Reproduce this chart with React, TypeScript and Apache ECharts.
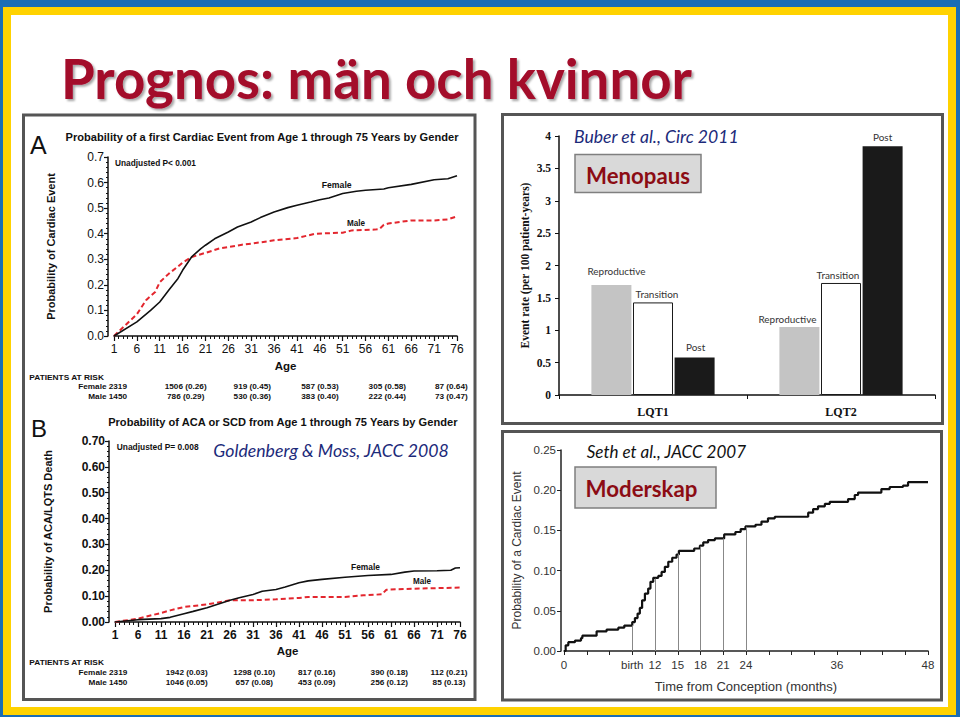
import React, { useEffect, useRef } from "react";
import * as echarts from "echarts";

// ---------- Panel A: first cardiac event by gender ----------
const agesFemaleA = [1, 6, 9, 11, 13, 15, 16, 18, 20, 21, 23, 26, 28, 31, 33, 36, 39, 41, 44, 46, 48, 51, 54, 56, 60, 61, 66, 71, 74, 76];
const probFemaleA = [0, 0.055, 0.1, 0.133, 0.18, 0.225, 0.257, 0.31, 0.342, 0.355, 0.38, 0.407, 0.426, 0.446, 0.463, 0.485, 0.502, 0.511, 0.524, 0.533, 0.54, 0.557, 0.566, 0.57, 0.575, 0.58, 0.593, 0.611, 0.615, 0.627];
const agesMaleA = [1, 6, 8, 10, 11, 13, 15, 16, 18, 20, 21, 24, 26, 29, 31, 36, 41, 45, 51, 53, 58, 59, 60, 61, 66, 71, 74, 76];
const probMaleA = [0, 0.085, 0.14, 0.172, 0.21, 0.244, 0.272, 0.287, 0.309, 0.32, 0.325, 0.342, 0.348, 0.357, 0.361, 0.374, 0.383, 0.4, 0.404, 0.413, 0.416, 0.418, 0.435, 0.44, 0.452, 0.452, 0.456, 0.468];
const riskFemaleA = ["1506 (0.26)", "919 (0.45)", "587 (0.53)", "305 (0.58)", "87 (0.64)"];
const riskMaleA = ["786 (0.29)", "530 (0.36)", "383 (0.40)", "222 (0.44)", "73 (0.47)"];

// ---------- Panel B: ACA or SCD by gender ----------
const agesFemaleB = [1, 6, 11, 13, 16, 18, 21, 23, 26, 28, 31, 33, 36, 38, 41, 43, 46, 51, 56, 61, 64, 66, 71, 74, 75, 76];
const probFemaleB = [0, 0.009, 0.013, 0.018, 0.032, 0.041, 0.055, 0.067, 0.084, 0.094, 0.106, 0.119, 0.126, 0.135, 0.152, 0.159, 0.165, 0.173, 0.18, 0.184, 0.193, 0.197, 0.198, 0.2, 0.209, 0.21];
const agesMaleB = [1, 6, 11, 13, 16, 21, 26, 31, 36, 41, 43, 51, 55, 59, 60, 66, 76];
const probMaleB = [0, 0.013, 0.035, 0.045, 0.058, 0.068, 0.084, 0.084, 0.088, 0.093, 0.097, 0.097, 0.103, 0.107, 0.125, 0.129, 0.133];
const riskFemaleB = ["1942 (0.03)", "1298 (0.10)", "817 (0.16)", "390 (0.18)", "112 (0.21)"];
const riskMaleB = ["1046 (0.05)", "657 (0.08)", "453 (0.09)", "256 (0.12)", "85 (0.13)"];

// ---------- Panel C: menopause event rates ----------
const genotypes = ["LQT1", "LQT2"];
const reproductive = [1.7, 1.05];
const transition = [1.43, 1.73];
const post = [0.58, 3.84];

// ---------- Panel D: pregnancy / postpartum ----------
const months = [0, 0.22, 0.57, 1.45, 2.24, 2.42, 4.3, 5.62, 7.16, 7.95, 9.0, 9.35, 9.7, 10.0, 10.3, 10.67, 11.1, 11.4, 11.77, 12.43, 12.87, 13.3, 13.75, 14.27, 14.84, 15.15, 17.17, 17.92, 18.36, 19.0, 19.9, 21.12, 22.6, 23.3, 23.93, 25.25, 26.04, 26.9, 27.8, 32.2, 32.85, 33.5, 34.4, 35.05, 37.46, 38.34, 38.78, 41.85, 42.95, 44.7, 45.37, 48];
const cardiacProb = [0, 0.007, 0.011, 0.013, 0.016, 0.019, 0.0245, 0.0266, 0.029, 0.0316, 0.036, 0.041, 0.0465, 0.0536, 0.063, 0.0714, 0.0777, 0.086, 0.091, 0.0934, 0.0984, 0.1047, 0.111, 0.116, 0.12, 0.1246, 0.1275, 0.131, 0.135, 0.138, 0.14, 0.145, 0.148, 0.1516, 0.155, 0.157, 0.161, 0.165, 0.167, 0.172, 0.1765, 0.18, 0.183, 0.1856, 0.189, 0.194, 0.197, 0.2014, 0.204, 0.2056, 0.21, 0.21];
const markerMonths = [9, 12, 15, 18, 21, 24];
const markerProb = [0.032, 0.09, 0.121, 0.13, 0.14, 0.1545];
const monthLabels: Record<number, string> = { 0: "0", 9: "birth", 12: "12", 15: "15", 18: "18", 21: "21", 24: "24", 36: "36", 48: "48" };

const SANS = '"Liberation Sans", Arial, sans-serif';
const SERIF = '"Liberation Serif", "Times New Roman", serif';
const HUM = 'Lato, "Open Sans", sans-serif';

const zip = (a: number[], b: number[]) => a.map((x, i) => [x, b[i]]);

function buildOption() {
  const cv = document.createElement("canvas").getContext("2d")!;
  const measure = (t: string, font: string) => {
    cv.font = font;
    return cv.measureText(t).width;
  };
  const txt = (t: string, x: number, y: number, font: string, fill: string, opts: any = {}) => {
    const { align = "left", fit, scale, z = 30, extra = {} } = opts;
    const sx = fit ? fit / measure(t, font) : scale || 1;
    return {
      type: "text",
      x,
      y,
      z,
      scaleX: sx,
      silent: true,
      style: { text: t, font, fill, textAlign: align, textVerticalAlign: "middle", verticalAlign: "middle", ...extra },
    };
  };
  const sizeFor = (t: string, pre: string, family: string, width: number) => (20 * width) / measure(t, `${pre} 20px ${family}`);

  const titleSize = sizeFor("Prognos: män och kvinnor", "bold", HUM, 631);
  const buberSize = sizeFor("Buber et al., Circ 2011", "italic", HUM, 165);
  const goldSize = sizeFor("Goldenberg & Moss, JACC 2008", "italic", HUM, 236);
  const sethSize = sizeFor("Seth et al., JACC 2007", "italic", HUM, 160);
  const menoSize = sizeFor("Menopaus", "bold", HUM, 104);
  const modSize = sizeFor("Moderskap", "bold", HUM, 112);
  const barLabelSize = sizeFor("Reproductive", "", HUM, 58);

  const riskFont = `bold 8px ${SANS}`;
  const riskScale = 42 / measure("1506 (0.26)", riskFont);
  const colsA = [185.7, 252.3, 320, 387.3, 451.3];
  const colsB = [186.7, 254.3, 316.7, 389.3, 449];

  const graphic: any[] = [
    { type: "rect", z: -20, silent: true, shape: { x: 3, y: 7, width: 953, height: 708 }, style: { fill: "#ffd200" } },
    { type: "rect", z: -19, silent: true, shape: { x: 11, y: 15, width: 937, height: 692 }, style: { fill: "#ffffff" } },
    txt("Prognos: män och kvinnor", 61, 78, `bold ${titleSize}px ${HUM}`, "#a3092a", {
      extra: { textShadowColor: "rgba(0,0,0,0.35)", textShadowOffsetX: 2, textShadowOffsetY: 2, textShadowBlur: 2 },
    }),
    // panel frames
    { type: "rect", z: 40, silent: true, shape: { x: 23.5, y: 115, width: 451.5, height: 584.5 }, style: { fill: "none", stroke: "#555", lineWidth: 3 } },
    { type: "rect", z: 40, silent: true, shape: { x: 502.5, y: 114.5, width: 440, height: 309 }, style: { fill: "none", stroke: "#555", lineWidth: 3 } },
    { type: "rect", z: 40, silent: true, shape: { x: 502.5, y: 431.5, width: 439, height: 268.5 }, style: { fill: "none", stroke: "#555", lineWidth: 3 } },

    // Panel A
    txt("A", 30, 144.5, `25px ${SANS}`, "#111"),
    txt("Probability of a first Cardiac Event from Age 1 through 75 Years by Gender", 262, 137, `bold 11.5px ${SANS}`, "#111", { align: "center", fit: 394 }),
    txt("Unadjusted P< 0.001", 115, 163, `bold 8.3px ${SANS}`, "#111", { fit: 81 }),
    txt("Female", 336.7, 185, `bold 9px ${SANS}`, "#111", { align: "center", fit: 30 }),
    txt("Male", 356, 223.3, `bold 9px ${SANS}`, "#111", { align: "center", fit: 18 }),
    txt("PATIENTS AT RISK", 29.3, 377.7, riskFont, "#111", { fit: 75 }),
    txt("Female 2319", 127, 387, riskFont, "#111", { align: "right", scale: riskScale }),
    txt("Male 1450", 127, 396.5, riskFont, "#111", { align: "right", scale: riskScale }),
    ...riskFemaleA.map((t, i) => txt(t, colsA[i], 387, riskFont, "#111", { align: "center", scale: riskScale })),
    ...riskMaleA.map((t, i) => txt(t, colsA[i], 396.5, riskFont, "#111", { align: "center", scale: riskScale })),

    // Panel B
    txt("B", 31, 428.5, `24px ${SANS}`, "#111"),
    txt("Probability of ACA or SCD from Age 1 through 75 Years by Gender", 282.8, 421.7, `bold 11.5px ${SANS}`, "#111", { align: "center", fit: 351 }),
    txt("Unadjusted P= 0.008", 116.7, 446.7, `bold 8.3px ${SANS}`, "#111", { fit: 82 }),
    txt("Goldenberg & Moss, JACC 2008", 213.3, 450, `italic ${goldSize}px ${HUM}`, "#1c2a7a"),
    txt("Female", 365.5, 566.7, `bold 9px ${SANS}`, "#111", { align: "center", fit: 29 }),
    txt("Male", 422, 581, `bold 9px ${SANS}`, "#111", { align: "center", fit: 18 }),
    txt("PATIENTS AT RISK", 29.3, 662.7, riskFont, "#111", { fit: 75 }),
    txt("Female 2319", 127.3, 672.7, riskFont, "#111", { align: "right", scale: riskScale }),
    txt("Male 1450", 127.3, 682.3, riskFont, "#111", { align: "right", scale: riskScale }),
    ...riskFemaleB.map((t, i) => txt(t, colsB[i], 672.7, riskFont, "#111", { align: "center", scale: riskScale })),
    ...riskMaleB.map((t, i) => txt(t, colsB[i], 682.3, riskFont, "#111", { align: "center", scale: riskScale })),

    // Panel C
    txt("Buber et al., Circ 2011", 574, 136, `italic ${buberSize}px ${HUM}`, "#1c2a7a"),
    { type: "rect", z: 25, silent: true, shape: { x: 575, y: 154.5, width: 126, height: 38 }, style: { fill: "#d9d9d9", stroke: "#7f7f7f", lineWidth: 1.5 } },
    txt("Menopaus", 638, 175.7, `bold ${menoSize}px ${HUM}`, "#8c0c14", { align: "center" }),

    // Panel D
    txt("Seth et al., JACC 2007", 586.7, 451, `italic ${sethSize}px ${HUM}`, "#111"),
    { type: "rect", z: 25, silent: true, shape: { x: 575, y: 467, width: 141, height: 41 }, style: { fill: "#d9d9d9", stroke: "#7f7f7f", lineWidth: 1.5 } },
    txt("Moderskap", 641.5, 488.3, `bold ${modSize}px ${HUM}`, "#8c0c14", { align: "center" }),
  ];

  const axisBlack = { lineStyle: { color: "#111", width: 1.5 } };

  const ageAxis = (gridIndex: number, bold: boolean, gap: number) => ({
    gridIndex,
    type: "value",
    min: 1,
    max: 76,
    interval: 5,
    axisLine: { onZero: false, ...axisBlack },
    axisTick: { length: 5, lineStyle: { color: "#111", width: 1.2 } },
    minorTick: { show: true, splitNumber: 5, length: 3, lineStyle: { color: "#111" } },
    splitLine: { show: false },
    axisLabel: { color: "#111", fontSize: 12, fontFamily: SANS, fontWeight: bold ? "bold" : "normal", margin: 7 },
    name: "Age",
    nameLocation: "middle",
    nameGap: gap,
    nameTextStyle: { color: "#111", fontSize: 11.5, fontWeight: "bold", fontFamily: SANS },
  });

  const probAxis = (gridIndex: number, bold: boolean, digits: number, name: string, gap: number) => ({
    gridIndex,
    type: "value",
    min: 0,
    max: 0.7,
    interval: 0.1,
    offset: 6,
    axisLine: { show: true, onZero: false, ...axisBlack },
    axisTick: { show: true, length: 4, lineStyle: { color: "#111", width: 1.2 } },
    minorTick: { show: true, splitNumber: 5, length: 2, lineStyle: { color: "#111" } },
    splitLine: { show: false },
    axisLabel: { color: "#111", fontSize: 12, fontFamily: SANS, fontWeight: bold ? "bold" : "normal", margin: 4, formatter: (v: number) => v.toFixed(digits) },
    name,
    nameLocation: "middle",
    nameGap: gap,
    nameRotate: 90,
    nameTextStyle: { color: "#111", fontSize: 11, fontWeight: "bold", fontFamily: SANS },
  });

  const lineSeries = (idx: number, data: number[][], male: boolean) => ({
    type: "line",
    xAxisIndex: idx,
    yAxisIndex: idx,
    data,
    showSymbol: false,
    symbol: "none",
    silent: true,
    lineStyle: male ? { color: "#e3262e", width: 2, type: [5, 3] } : { color: "#111", width: 1.6 },
    z: male ? 3 : 4,
  });

  const barLabel = (offsets: number[][]) => (values: number[]) =>
    values.map((v, i) => ({ value: v, label: { offset: offsets[i] } }));

  const barBase = (name: string, color: string, data: any[], extraStyle: any = {}) => ({
    type: "bar",
    name,
    xAxisIndex: 2,
    yAxisIndex: 2,
    data,
    barWidth: 40,
    barGap: "4%",
    silent: true,
    itemStyle: { color, ...extraStyle },
    label: {
      show: true,
      position: "top",
      distance: 5,
      formatter: name,
      color: "#333",
      fontSize: barLabelSize,
      fontFamily: HUM,
    },
  });

  return {
    animation: false,
    backgroundColor: "#1a6db5",
    graphic,
    grid: [
      { left: 114, top: 157, width: 343, height: 179, containLabel: false, outerBoundsMode: "none" },
      { left: 115, top: 441, width: 345, height: 181, containLabel: false, outerBoundsMode: "none" },
      { left: 559, top: 136, width: 376, height: 259, containLabel: false, outerBoundsMode: "none" },
      { left: 564, top: 450, width: 364, height: 201, containLabel: false, outerBoundsMode: "none" },
    ],
    xAxis: [
      ageAxis(0, false, 24),
      ageAxis(1, true, 23),
      {
        gridIndex: 2,
        type: "category",
        data: genotypes,
        axisLine: { onZero: false, ...axisBlack },
        axisTick: { show: true, length: 4, lineStyle: { color: "#111" } },
        axisLabel: { color: "#111", fontSize: 12, fontWeight: "bold", fontFamily: SERIF, margin: 11 },
      },
      {
        gridIndex: 3,
        type: "value",
        min: 0,
        max: 48,
        interval: 3,
        axisLine: { onZero: false, lineStyle: { color: "#222", width: 1.5 } },
        axisTick: { length: 4, lineStyle: { color: "#222" } },
        splitLine: { show: false },
        axisLabel: { color: "#333", fontSize: 11.5, fontFamily: SANS, margin: 8, formatter: (v: number) => monthLabels[v] ?? "" },
        name: "Time from Conception (months)",
        nameLocation: "middle",
        nameGap: 29,
        nameTextStyle: { color: "#333", fontSize: 13, fontFamily: SANS },
      },
    ],
    yAxis: [
      probAxis(0, false, 1, "Probability of Cardiac Event", 52),
      probAxis(1, true, 2, "Probability of ACA/LQTS Death", 56),
      {
        gridIndex: 2,
        type: "value",
        min: 0,
        max: 4,
        interval: 0.5,
        axisLine: { show: true, onZero: false, ...axisBlack },
        axisTick: { show: true, length: 4, lineStyle: { color: "#111" } },
        splitLine: { show: false },
        axisLabel: { color: "#111", fontSize: 11.5, fontWeight: "bold", fontFamily: SERIF, margin: 8 },
        name: "Event rate (per 100 patient-years)",
        nameLocation: "middle",
        nameGap: 28,
        nameRotate: 90,
        nameTextStyle: { color: "#111", fontSize: 11.5, fontWeight: "bold", fontFamily: SERIF },
      },
      {
        gridIndex: 3,
        type: "value",
        min: 0,
        max: 0.25,
        interval: 0.05,
        offset: 3,
        axisLine: { show: true, onZero: false, lineStyle: { color: "#222", width: 1.5 } },
        axisTick: { show: true, length: 4, lineStyle: { color: "#222" } },
        splitLine: { show: false },
        axisLabel: { color: "#333", fontSize: 11.5, fontFamily: SANS, margin: 5, formatter: (v: number) => v.toFixed(2) },
        name: "Probability of a Cardiac Event",
        nameLocation: "middle",
        nameGap: 38,
        nameRotate: 90,
        nameTextStyle: { color: "#333", fontSize: 12, fontFamily: SANS },
      },
    ],
    series: [
      lineSeries(0, zip(agesMaleA, probMaleA), true),
      lineSeries(0, zip(agesFemaleA, probFemaleA), false),
      lineSeries(1, zip(agesMaleB, probMaleB), true),
      lineSeries(1, zip(agesFemaleB, probFemaleB), false),
      barBase("Reproductive", "#c4c4c4", barLabel([[5, -4], [-12, 2]])(reproductive)),
      barBase("Transition", "#ffffff", barLabel([[4, 2], [-3, 2]])(transition), { borderColor: "#1a1a1a", borderWidth: 1 }),
      barBase("Post", "#1a1a1a", barLabel([[1, 0], [0, 1]])(post)),
      {
        type: "line",
        xAxisIndex: 3,
        yAxisIndex: 3,
        data: zip(months, cardiacProb),
        step: "end",
        showSymbol: false,
        symbol: "none",
        silent: true,
        lineStyle: { color: "#111", width: 2.2 },
        markLine: {
          silent: true,
          symbol: ["none", "none"],
          label: { show: false },
          lineStyle: { color: "#888", width: 1, type: "solid" },
          data: markerMonths.map((m, i) => [{ coord: [m, 0] }, { coord: [m, markerProb[i]] }]),
        },
      },
    ],
  };
}

export default function App() {
  const ref = useRef<HTMLDivElement>(null);
  useEffect(() => {
    document.body.style.margin = "0";
    const chart = echarts.init(ref.current!, null, { renderer: "svg", width: 960, height: 717 });
    chart.setOption(buildOption() as any);
    return () => chart.dispose();
  }, []);
  return <div ref={ref} style={{ width: 960, height: 717, position: "absolute", left: 0, top: 0 }} />;
}
